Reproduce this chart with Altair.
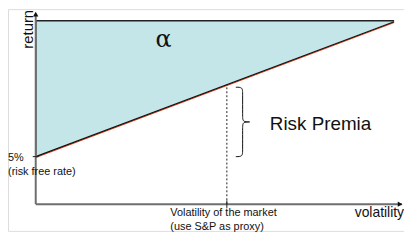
import altair as alt
import pandas as pd

# ---- values ----
rf = 5.0                 # risk free rate (%)
market_vol = 16.0        # volatility of the market
vol_end = 30.0           # right end of the capital market line
cml_end = 19.2           # return at right end of the line
top_return = 19.3        # top edge of the shaded area
axis_x_max = 30.65
axis_y_max = 20.0

labels_rf = ["5%", "(risk free rate)"]
labels_mkt = ["Volatility of the market", "(use S&P as proxy)"]

FONT = "Liberation Sans"
FILL = "#C5E6E8"
AXIS = "#6E6E6E"

def cml(v):
    return rf + (cml_end - rf) * v / vol_end

xs = alt.Scale(domain=[-2.3204, 30.829], nice=False, zero=False)
ys = alt.Scale(domain=[-2.8125, 20.5208], nice=False, zero=False)
X = lambda f: alt.X(f, type="quantitative", scale=xs, axis=None)
Y = lambda f: alt.Y(f, type="quantitative", scale=ys, axis=None)

area_df = pd.DataFrame({"x": [0, vol_end], "y": [rf, cml_end], "y2": [top_return, top_return]})
area = alt.Chart(area_df).mark_area(color=FILL, opacity=1).encode(x=X("x"), y=Y("y"), y2="y2")

line_df = pd.DataFrame({"x": [0, vol_end], "y": [rf, cml_end]})
red = alt.Chart(line_df.assign(y=line_df["y"] - 0.09)).mark_line(color="#E8401C", strokeWidth=1.1).encode(x=X("x"), y=Y("y"))
black = alt.Chart(line_df).mark_line(color="#111111", strokeWidth=1.1).encode(x=X("x"), y=Y("y"))

rules_df = pd.DataFrame({
    "x": [0, 0, 0, 0, -0.25, market_vol],
    "x2": [vol_end, 0, 0, axis_x_max, 0.25, market_vol],
    "y": [top_return, rf, 0, 0, rf, -0.4],
    "y2": [top_return, top_return, axis_y_max, 0, rf, 0.4],
    "kind": ["frame", "frame", "axis", "axis", "tick", "tick"],
})
frame = alt.Chart(rules_df[rules_df.kind == "frame"]).mark_rule(color="#222222", strokeWidth=1.5).encode(
    x=X("x"), x2="x2", y=Y("y"), y2="y2")
axes = alt.Chart(rules_df[rules_df.kind == "axis"]).mark_rule(color=AXIS, strokeWidth=2).encode(
    x=X("x"), x2="x2", y=Y("y"), y2="y2")
ticks = alt.Chart(rules_df[rules_df.kind == "tick"]).mark_rule(color="#222222", strokeWidth=1).encode(
    x=X("x"), x2="x2", y=Y("y"), y2="y2")

dash_df = pd.DataFrame({"x": [market_vol], "y": [0], "y2": [cml(market_vol)]})
dash = alt.Chart(dash_df).mark_rule(color="#222222", strokeWidth=1, strokeDash=[2, 2]).encode(
    x=X("x"), y=Y("y"), y2="y2")

arrow_up = alt.Chart(pd.DataFrame({"x": [0], "y": [axis_y_max]})).mark_point(
    shape="triangle-up", filled=True, color="#111111", size=30, opacity=1).encode(x=X("x"), y=Y("y"))
arrow_right = alt.Chart(pd.DataFrame({"x": [axis_x_max - 0.15], "y": [0]})).mark_point(
    shape="triangle-right", filled=True, color="#111111", size=30, opacity=1).encode(x=X("x"), y=Y("y"))

# brace spanning from the risk free rate up to the market return
bx0, bx1, bx2 = market_vol + 0.75, market_vol + 1.32, market_vol + 1.9
yt, yb = cml(market_vol) - 0.27, rf
ym = (yt + yb) / 2
brace_x = [bx0, bx1, bx1, bx1, bx1, bx2, bx2, bx2, bx1, bx1, bx1, bx1, bx0]
brace_y = [yt, yt, yt - 0.6, ym + 0.6, ym, ym, ym, ym, ym, ym - 0.6, yb + 0.6, yb, yb]
brace_df = pd.DataFrame({"x": brace_x, "y": brace_y, "o": list(range(len(brace_x)))})
brace = alt.Chart(brace_df).mark_line(color="#111111", strokeWidth=1, interpolate="basis").encode(
    x=X("x"), y=Y("y"), order="o:Q")

def text(df, **kw):
    return alt.Chart(df).mark_text(font=FONT, color="#111111", **kw).encode(x=X("x"), y=Y("y"), text="t:N")

t_return = text(pd.DataFrame({"x": [-0.22], "y": [18.4], "t": ["return"]}), fontSize=15, angle=270,
                align="center", baseline="alphabetic")
t_vol = text(pd.DataFrame({"x": [30.83], "y": [-0.95], "t": ["volatility"]}), fontSize=14, align="right",
             baseline="middle")
t_alpha = alt.Chart(pd.DataFrame({"x": [10.7], "y": [17.25], "t": ["α"]})).mark_text(
    font="DejaVu Serif", fontSize=24, color="#111111", align="center", baseline="middle").encode(
    x=X("x"), y=Y("y"), text="t:N")
t_rf = text(pd.DataFrame({"x": [-2.32, -2.32], "y": [4.9, 3.35], "t": labels_rf}), fontSize=11,
            align="left", baseline="middle")
t_mkt = text(pd.DataFrame({"x": [11.27, 11.27], "y": [-0.95, -2.4], "t": labels_mkt}), fontSize=11,
             align="left", baseline="middle")
t_rp = text(pd.DataFrame({"x": [19.6], "y": [8.4], "t": ["Risk Premia"]}), fontSize=19, align="left",
            baseline="middle")

chart = alt.layer(area, red, black, frame, axes, ticks, dash, arrow_up, arrow_right, brace,
                  t_return, t_vol, t_alpha, t_rf, t_mkt, t_rp).properties(
    width=400, height=224, padding=0, autosize=alt.AutoSizeParams(type="none")
).configure_view(stroke=None).configure(background="white")

chart.save("out.html", embed_options={"renderer": "svg", "actions": False})
